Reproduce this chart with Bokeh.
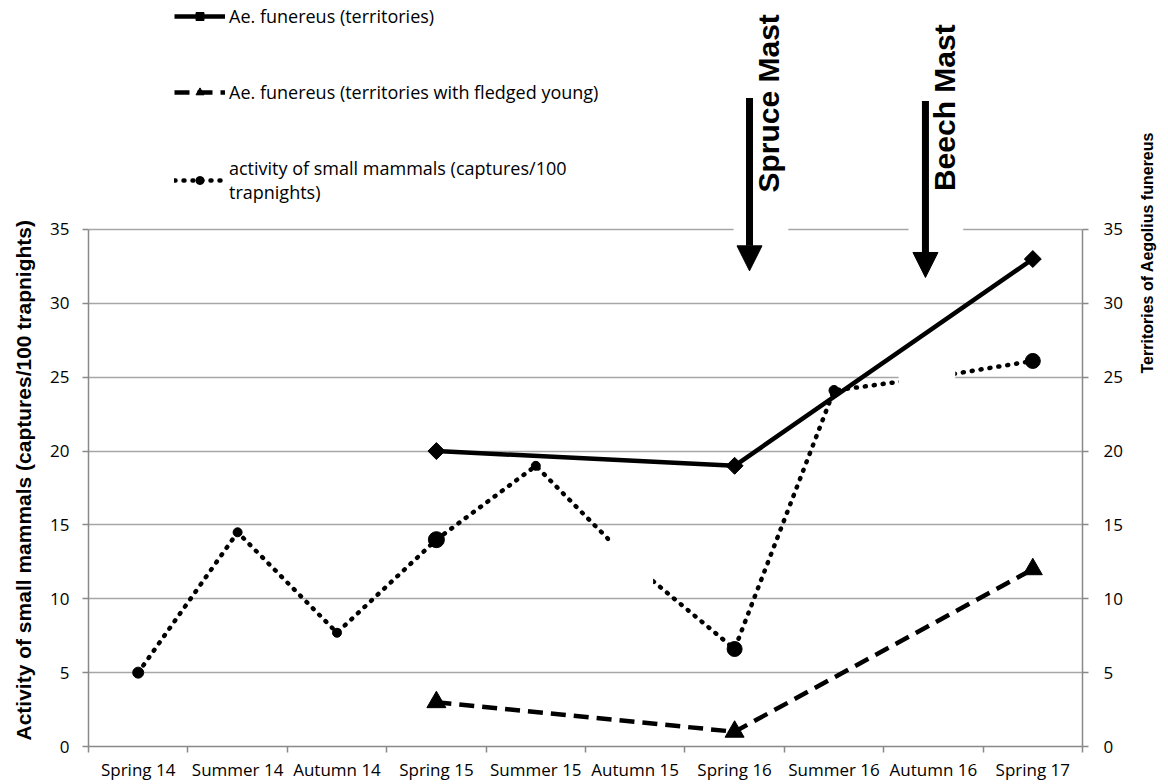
import math
from bokeh.plotting import figure
from bokeh.models import (Range1d, LinearAxis, FixedTicker, Grid, Legend, LegendItem,
                          Arrow, NormalHead, Label, BoxAnnotation, Title)
from bokeh.embed import file_html
from bokeh.resources import INLINE

# ---------------- data ----------------
seasons = ["Spring 14", "Summer 14", "Autumn 14", "Spring 15", "Summer 15",
           "Autumn 15", "Spring 16", "Summer 16", "Autumn 16", "Spring 17"]
mammal_activity = [5.0, 14.5, 7.7, 14.0, 19.0, 12.2, 6.6, 24.1, 25.0, 26.1]
owl_seasons = ["Spring 15", "Spring 16", "Spring 17"]
owl_territories = [20, 19, 33]
owl_fledged = [3, 1, 12]
y_ticks = [0, 5, 10, 15, 20, 25, 30, 35]
grid_ticks = [5, 10, 15, 20, 25, 30, 35]

# ---------------- styles ----------------
mammal_marker_sizes = [11, 9, 9, 16, 9, 9, 15, 10, 9, 15]
AXIS_GREY = "#898989"
GRID_GREY = "#a6a6a6"
TICK_FONT = "Open Sans"
BOLD_FONT = "Liberation Sans"


def xpos(season):
    return seasons.index(season) + 0.5


centers = [xpos(s) for s in seasons]
bounds_x = list(range(len(seasons) + 1))

p = figure(width=1168, height=784,
           x_range=Range1d(0, len(seasons)), y_range=Range1d(0, 50.5),
           output_backend="svg", toolbar_location=None,
           x_axis_location=None, y_axis_location=None,
           min_border_left=88, min_border_right=86, min_border_top=0, min_border_bottom=38)
p.outline_line_color = None
p.background_fill_color = "white"
p.border_fill_color = "white"
# drop the default grids entirely
p.center = [r for r in p.center if not isinstance(r, Grid)]

# grid
grid = Grid(dimension=1, ticker=FixedTicker(ticks=grid_ticks),
            grid_line_color=GRID_GREY, grid_line_width=1.5)
p.add_layout(grid)

# bottom axis
xaxis = LinearAxis(ticker=FixedTicker(ticks=centers, minor_ticks=bounds_x))
xaxis.major_label_overrides = {c: s for c, s in zip(centers, seasons)}
xaxis.major_tick_line_color = None
xaxis.major_tick_out = 0
xaxis.major_tick_in = 0
xaxis.minor_tick_line_color = AXIS_GREY
xaxis.minor_tick_line_width = 1.5
xaxis.minor_tick_out = 6
xaxis.minor_tick_in = 0
xaxis.axis_line_color = AXIS_GREY
xaxis.axis_line_width = 1.5
xaxis.major_label_text_font = TICK_FONT
xaxis.major_label_text_font_size = "17px"
xaxis.major_label_text_color = "black"
xaxis.major_label_standoff = 5
p.add_layout(xaxis, "below")

# left and right axes
yaxis_l = LinearAxis(ticker=FixedTicker(ticks=y_ticks), bounds=(0, 35))
yaxis_r = LinearAxis(ticker=FixedTicker(ticks=y_ticks), bounds=(0, 35),
                     axis_label="Territories of Aegolius funereus")
for ax in (yaxis_l, yaxis_r):
    ax.axis_line_color = AXIS_GREY
    ax.axis_line_width = 1.5
    ax.major_tick_line_color = AXIS_GREY
    ax.major_tick_line_width = 1.5
    ax.major_tick_out = 6
    ax.major_tick_in = 0
    ax.minor_tick_line_color = None
    ax.major_label_text_font = TICK_FONT
    ax.major_label_text_font_size = "17px"
    ax.major_label_text_color = "black"
yaxis_l.major_label_standoff = 13
yaxis_r.major_label_standoff = 15
yaxis_r.axis_label_orientation = math.pi / 2
yaxis_r.axis_label_standoff = 22
yaxis_r.axis_label_text_font = BOLD_FONT
yaxis_r.axis_label_text_font_style = "bold"
yaxis_r.axis_label_text_font_size = "16px"
yaxis_r.axis_label_text_color = "black"
p.add_layout(yaxis_l, "left")
p.add_layout(yaxis_r, "right")

# left axis title as a side-panel title, starting near the bottom of the axis
p.add_layout(Title(text="Activity of small mammals (captures/100 trapnights)",
                   align="left", offset=6, vertical_align="top", standoff=22,
                   text_font=BOLD_FONT, text_font_style="bold", text_font_size="21px",
                   text_color="black"), "left")

# ---------------- series ----------------
mx = [xpos(s) for s in seasons]
r_m_line = p.line(mx, mammal_activity, line_color="black", line_width=4.5,
                  line_dash="1 8", line_cap="round")
r_m_pts = p.scatter(mx, mammal_activity, marker="circle", size=mammal_marker_sizes,
                    fill_color="black", line_color="black")

ox = [xpos(s) for s in owl_seasons]
r_f_line = p.line(ox, owl_fledged, line_color="black", line_width=4.5, line_dash="15 8")
r_f_pts = p.scatter(ox, owl_fledged, marker="triangle", size=19,
                    fill_color="black", line_color="black")

r_t_line = p.line(ox, owl_territories, line_color="black", line_width=4.5)
r_t_pts = p.scatter(ox, owl_territories, marker="square", angle=math.pi / 4, size=12,
                    fill_color="black", line_color="black")

# white masks (label boxes in the original figure)
for (l, r, b, t) in [(5.25, 5.68, 10.8, 14.2), (8.15, 8.72, 24.0, 26.0),
                     (6.49, 7.04, 34.3, 35.7), (8.25, 8.80, 34.3, 35.7)]:
    p.add_layout(BoxAnnotation(left=l, right=r, bottom=b, top=t, fill_color="white",
                               fill_alpha=1.0, line_color=None))

# mast arrows
for (x, y0, y1) in [(6.65, 43.9, 32.2), (8.42, 43.7, 31.75)]:
    p.add_layout(Arrow(x_start=x, y_start=y0, x_end=x, y_end=y1, line_width=7,
                       line_color="black",
                       end=NormalHead(size=25, fill_color="black", line_color="black")))
for (x, y, txt) in [(6.84, 37.5, "Spruce Mast"), (8.61, 37.6, "Beech Mast")]:
    p.add_layout(Label(x=x, y=y, text=txt, angle=math.pi / 2, text_align="left",
                       text_baseline="middle", text_font=BOLD_FONT,
                       text_font_style="bold", text_font_size="30px", text_color="black"))

legend = Legend(items=[
    LegendItem(label="Ae. funereus (territories)", renderers=[r_t_line, r_t_pts]),
    LegendItem(label="Ae. funereus (territories with fledged young)", renderers=[r_f_line, r_f_pts]),
    LegendItem(label="activity of small mammals (captures/100\ntrapnights)", renderers=[r_m_line, r_m_pts]),
], location=(86, 542), padding=0, margin=0, spacing=52, glyph_width=51, glyph_height=20,
    label_standoff=4, label_text_font=TICK_FONT, label_text_font_size="18px",
    label_text_color="black", border_line_color=None, background_fill_alpha=0)
p.add_layout(legend)

open("out.html", "w").write(file_html(p, INLINE))
